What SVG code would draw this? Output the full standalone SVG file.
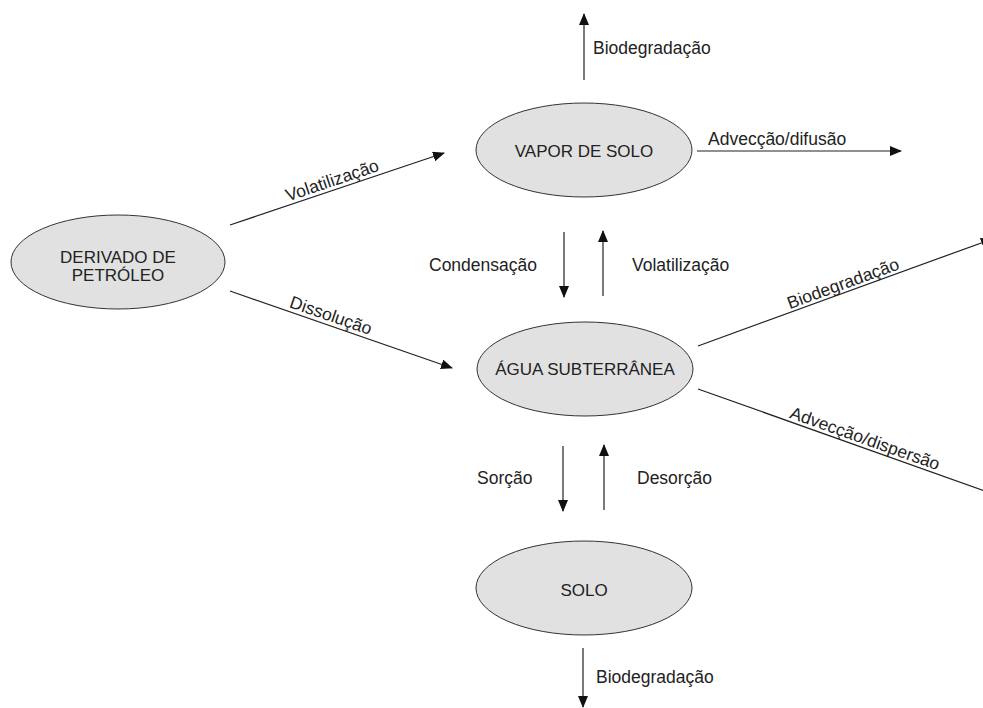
<svg xmlns="http://www.w3.org/2000/svg" width="983" height="708" viewBox="0 0 983 708">
<style>
.node ellipse{fill:#e1e1e1;stroke:#333;stroke-width:1}
text{font-family:"Liberation Sans",Arial,sans-serif;font-size:17px;fill:#222}
#labels text{font-size:17.5px}
.nt{text-anchor:middle}
.conn line{stroke:#222;stroke-width:1.2;fill:none}
.arr{marker-end:url(#ah)}
</style>
<defs>
<marker id="ah" markerUnits="userSpaceOnUse" markerWidth="12" markerHeight="10" viewBox="0 0 12 10" refX="11" refY="5" orient="auto">
<path d="M0,0 L12,5 L0,10 z" fill="#111"/>
</marker>
</defs>
<rect width="983" height="708" fill="#fff"/>
<g id="node-derivado" class="node">
<ellipse cx="118" cy="262" rx="107" ry="47"/>
<text class="nt" x="118" y="263">DERIVADO DE</text>
<text class="nt" x="118" y="281">PETRÓLEO</text>
</g>
<g id="node-vapor" class="node">
<ellipse cx="584" cy="150" rx="108" ry="47"/>
<text class="nt" x="584" y="157">VAPOR DE SOLO</text>
</g>
<g id="node-agua" class="node">
<ellipse cx="585" cy="369" rx="108" ry="47"/>
<text class="nt" x="585" y="375">ÁGUA SUBTERRÂNEA</text>
</g>
<g id="node-solo" class="node">
<ellipse cx="584" cy="588" rx="108" ry="47"/>
<text class="nt" x="584" y="596">SOLO</text>
</g>
<g id="connectors" class="conn">
<line class="arr" x1="584" y1="80" x2="584" y2="14"/>
<line class="arr" x1="697" y1="151" x2="901" y2="151"/>
<line class="arr" x1="230" y1="225" x2="444" y2="153"/>
<line class="arr" x1="230" y1="291" x2="452" y2="368"/>
<line class="arr" x1="564" y1="232" x2="564" y2="297"/>
<line class="arr" x1="603" y1="296" x2="603" y2="231"/>
<line class="arr" x1="698" y1="346" x2="992" y2="239"/>
<line x1="698" y1="389" x2="985" y2="491"/>
<line class="arr" x1="563" y1="446" x2="563" y2="511"/>
<line class="arr" x1="604" y1="510" x2="604" y2="445"/>
<line class="arr" x1="583" y1="648" x2="583" y2="707"/>
</g>
<g id="labels">
<text x="593" y="54">Biodegradação</text>
<text x="708" y="145">Advecção/difusão</text>
<text class="nt" transform="translate(334,186) rotate(-18.7)">Volatilização</text>
<text class="nt" transform="translate(329,321) rotate(19.1)">Dissolução</text>
<text x="429" y="271">Condensação</text>
<text x="632" y="271">Volatilização</text>
<text class="nt" transform="translate(845,289) rotate(-20)">Biodegradação</text>
<text class="nt" transform="translate(863,444) rotate(19.5)">Advecção/dispersão</text>
<text x="477" y="484">Sorção</text>
<text x="637" y="484">Desorção</text>
<text x="596" y="683">Biodegradação</text>
</g>
</svg>
